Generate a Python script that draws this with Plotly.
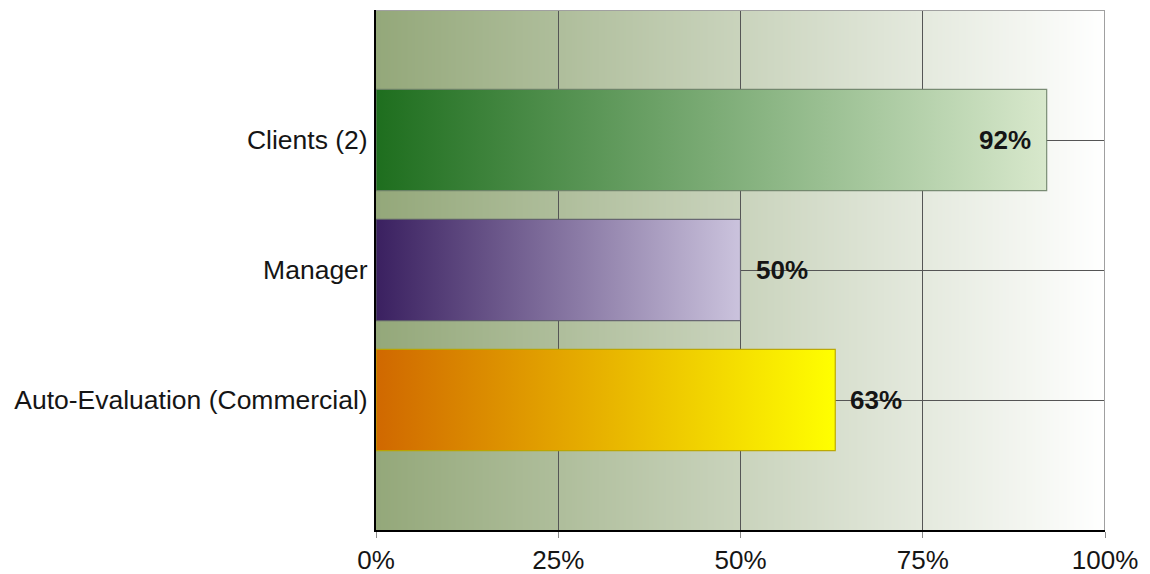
import base64
import struct
import zlib

import plotly.graph_objects as go

# Survey scores per respondent group (percent)
categories = ["Clients (2)", "Manager", "Auto-Evaluation (Commercial)"]
scores = [92, 50, 63]
x_ticks = [0, 25, 50, 75, 100]
x_tick_labels = ["0%", "25%", "50%", "75%", "100%"]

# Horizontal gradient for each bar: (left colour, right colour, outline)
bar_styles = [
    ("rgb(30,110,30)", "rgb(216,232,204)", "rgba(110,130,105,0.9)"),
    ("rgb(58,32,96)", "rgb(203,195,221)", "rgba(95,95,105,0.9)"),
    ("rgb(208,104,0)", "rgb(255,255,0)", "rgba(185,165,0,0.95)"),
]

FONT = "Liberation Sans, Arial, sans-serif"
BAR_HALF = 0.39
Y_RANGE = [len(categories), -1]   # reversed: first category on top
X_RANGE = [0, 100]


def gradient_png(c0, c1, width=512, height=2):
    """Tiny left-to-right gradient PNG as a data URI."""
    row = bytearray([0])
    for i in range(width):
        t = i / (width - 1)
        row += bytes(round(a + (b - a) * t) for a, b in zip(c0, c1))
    raw = bytes(row) * height

    def chunk(tag, data):
        return (struct.pack(">I", len(data)) + tag + data
                + struct.pack(">I", zlib.crc32(tag + data) & 0xFFFFFFFF))

    png = (b"\x89PNG\r\n\x1a\n"
           + chunk(b"IHDR", struct.pack(">IIBBBBB", width, height, 8, 2, 0, 0, 0))
           + chunk(b"IDAT", zlib.compress(raw))
           + chunk(b"IEND", b""))
    return "data:image/png;base64," + base64.b64encode(png).decode()


fig = go.Figure()

for idx, (name, val) in enumerate(zip(categories, scores)):
    c_left, c_right, edge = bar_styles[idx]
    y0, y1 = idx - BAR_HALF, idx + BAR_HALF
    fig.add_trace(go.Scatter(
        x=[0, val, val, 0, 0],
        y=[y0, y0, y1, y1, y0],
        mode="lines",
        fill="toself",
        fillgradient=dict(type="horizontal",
                          colorscale=[[0, c_left], [1, c_right]]),
        line=dict(color=edge, width=1.2),
        name=name,
        hoverinfo="skip",
        showlegend=False,
    ))
    inside = val > 85
    fig.add_annotation(
        x=val, y=idx, xref="x", yref="y",
        text=f"<b>{val}%</b>",
        showarrow=False,
        xanchor="right" if inside else "left",
        xshift=-14 if inside else 13,
        font=dict(family=FONT, size=26, color="#151515"),
    )

# Plot-area background: green fading to white, under the grid
fig.add_layout_image(
    source=gradient_png((148, 168, 122), (255, 255, 255)),
    xref="x", yref="y",
    x=X_RANGE[0], y=Y_RANGE[1],
    sizex=X_RANGE[1] - X_RANGE[0], sizey=abs(Y_RANGE[0] - Y_RANGE[1]),
    xanchor="left", yanchor="top",
    sizing="stretch", layer="below",
)

# Light frame on the top and right edges of the plot area
frame = dict(color="#a0a0a0", width=2)
fig.add_shape(type="line", xref="x", yref="y",
              x0=X_RANGE[0], x1=X_RANGE[1], y0=Y_RANGE[1], y1=Y_RANGE[1],
              line=frame, layer="above")
fig.add_shape(type="line", xref="x", yref="y",
              x0=X_RANGE[1], x1=X_RANGE[1], y0=Y_RANGE[0], y1=Y_RANGE[1],
              line=frame, layer="above")

fig.update_layout(
    width=1150, height=574,
    margin=dict(l=376, r=45, t=10, b=44, autoexpand=False),
    paper_bgcolor="white",
    plot_bgcolor="white",
    showlegend=False,
    xaxis=dict(
        range=X_RANGE, automargin=False,
        tickvals=x_ticks, ticktext=x_tick_labels,
        showgrid=True, gridcolor="#555555", gridwidth=1,
        zeroline=False,
        showline=True, linecolor="black", linewidth=2, layer="above traces",
        ticks="outside", ticklen=6, tickcolor="#8a8a8a", tickwidth=1,
        ticklabelstandoff=0,
        tickfont=dict(family=FONT, size=26, color="#151515"),
    ),
    yaxis=dict(
        range=Y_RANGE, automargin=False,
        tickvals=list(range(len(categories))), ticktext=categories,
        showgrid=True, gridcolor="#555555", gridwidth=1,
        zeroline=False,
        showline=True, linecolor="black", linewidth=2,
        ticks="", ticklabelstandoff=1,
        tickfont=dict(family=FONT, size=26.5, color="#151515"),
    ),
)

fig.write_html("out.html")
